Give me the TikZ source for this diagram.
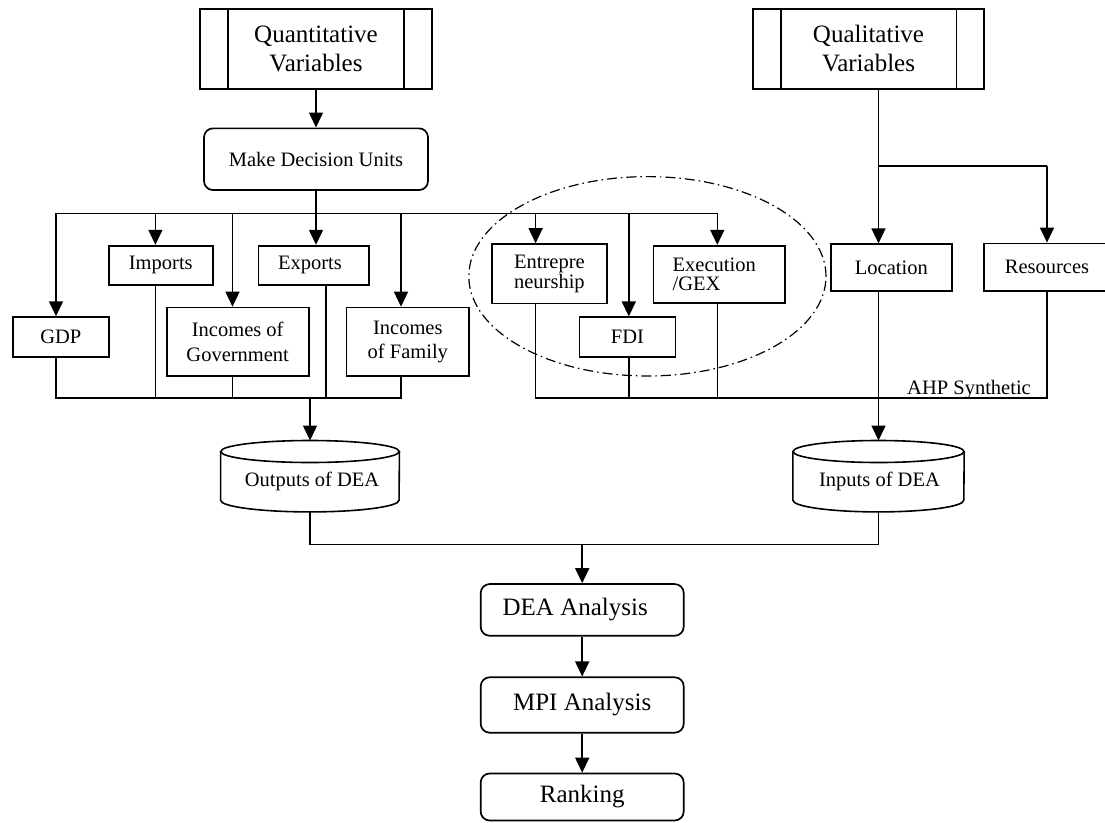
\documentclass[tikz,border=0pt]{standalone}
\usepackage{fontspec}
\setmainfont{Liberation Serif}
\usetikzlibrary{arrows.meta,calc}
\tikzset{
  box/.style={draw, line width=1.7pt, inner sep=0pt, align=center, font=\fontsize{20.5}{24.5}\selectfont},
  bigbox/.style={box, font=\fontsize{25}{29}\selectfont},
  rbox/.style={box, rounded corners=9pt},
  rbigbox/.style={bigbox, rounded corners=9pt},
  vbox/.style={bigbox, path picture={
      \draw[line width=1.5pt] ([xshift=28pt]path picture bounding box.north west) -- ([xshift=28pt]path picture bounding box.south west)
        ([xshift=-28pt]path picture bounding box.north east) -- ([xshift=-28pt]path picture bounding box.south east);}},
  cylarea/.style={inner sep=0pt},
  cyltext/.style={inner sep=0pt, align=center, font=\fontsize{20.5}{24.5}\selectfont},
  ln/.style={line width=1.5pt},
  arr/.style={ln, -{Triangle[width=14pt,length=15pt]}},
  ellip/.style={line width=1.2pt, dash pattern=on 10pt off 4pt on 1.5pt off 4pt}
}
\begin{document}
\begin{tikzpicture}[x=1pt,y=-1pt]
\useasboundingbox (0,0) rectangle (1105,822);

% top boxes
\node[vbox, minimum width=232pt, minimum height=80pt] (quant) at (316,49) {Quantitative\\Variables};
\node[vbox, minimum width=231.5pt, minimum height=80pt] (qual) at (868.5,49) {Qualitative\\Variables};
\node[rbox, minimum width=224pt, minimum height=61.7pt] (mdu) at (316,159.2) {Make Decision Units};

% second row
\node[box, minimum width=96.3pt, minimum height=39.7pt] (gdp) at (60.8,337) {GDP};
\node[box, minimum width=104.2pt, minimum height=39.3pt] (imp) at (160.8,265.3) {Imports};
\node[box, minimum width=142pt, minimum height=68.5pt] (igov) at (237.7,341.8) {Incomes of\\Government};
\node[box, minimum width=110.8pt, minimum height=39.3pt] (exp) at (313.9,265.3) {Exports\hspace*{8pt}};
\node[box, minimum width=122.5pt, minimum height=68.5pt] (ifam) at (407.8,341.8) {Incomes\\of Family};
\node[box, minimum width=115.2pt, minimum height=59.3pt, align=left, font=\fontsize{20.5}{18.5}\selectfont] (ent) at (549.4,273.7) {Entrepre\\neurship};
\node[box, minimum width=96pt, minimum height=39.4pt] (fdi) at (627.5,337) {FDI};
\node[box, minimum width=131.6pt, minimum height=57.6pt, align=left, font=\fontsize{20.5}{19}\selectfont] (exe) at (719.2,274.5) {Execution\hspace*{10pt}\\/GEX};
\node[box, minimum width=120.7pt, minimum height=46.5pt] (loc) at (891.3,267.5) {Location};
\node[box, minimum width=126pt, minimum height=47.5pt] (res) at (1047,267.2) {Resources};

% ellipse
\draw[ellip] (647.4,276.3) ellipse [x radius=178.6pt, y radius=99.7pt];

% bus coordinates
\coordinate (b1) at (56,213.3);
\coordinate (b2) at (155.4,213.3);
\coordinate (b3) at (232.5,213.3);
\coordinate (b4) at (316,213.3);
\coordinate (b5) at (401,213.3);
\coordinate (b6) at (535.6,213.3);
\coordinate (b7) at (628.8,213.3);
\coordinate (b8) at (717.3,213.3);
\draw[ln] (b1) -- (b8);

\draw[arr] (quant.south) -- (mdu.north);
\draw[arr] (mdu.south) -- (exp.north -| mdu.south);
\draw[arr] (b1) -- (b1 |- gdp.north);
\draw[arr] (b2) -- (b2 |- imp.north);
\draw[arr] (b3) -- (b3 |- igov.north);
\draw[arr] (b5) -- (b5 |- ifam.north);
\draw[arr] (b6) -- (b6 |- ent.north);
\draw[arr] (b7) -- (b7 |- fdi.north);
\draw[arr] (b8) -- (b8 |- exe.north);

% qualitative branch
\coordinate (qs) at (878.5,166);
\coordinate (qr) at (1047,166);
\draw[ln] (qual.south -| qs) -- (qs) -- (qr);
\draw[arr] (qs) -- (qs |- loc.north);
\draw[arr] (qr) -- (qr |- res.north);

% collectors
\coordinate (c1) at (56,398);
\coordinate (c2) at (155.4,398);
\coordinate (c3) at (232.5,398);
\coordinate (c4) at (326.2,398);
\coordinate (c5) at (401,398);
\coordinate (co) at (310,398);
\draw[ln] (c1 |- gdp.south) -- (c1) -- (c5) -- (c5 |- ifam.south);
\draw[ln] (c2 |- imp.south) -- (c2);
\draw[ln] (c3 |- igov.south) -- (c3);
\draw[ln] (c4 |- exp.south) -- (c4);

\coordinate (d1) at (535.6,398);
\coordinate (d2) at (628.8,398);
\coordinate (d3) at (717.3,398);
\coordinate (d4) at (1047,398);
\draw[ln] (d1 |- ent.south) -- (d1) -- (d4) -- (d4 |- res.south);
\draw[ln] (d2 |- fdi.south) -- (d2);
\draw[ln] (d3 |- exe.south) -- (d3);
\node[inner sep=0pt, anchor=base, font=\fontsize{20.5}{24.5}\selectfont] (ahp) at (969,394) {AHP Synthetic};

% cylinders
\node[cylarea, minimum width=178.5pt, minimum height=71pt] (outp) at (310,476.2) {};
\node[cylarea, minimum width=171pt, minimum height=71pt] (inp) at (878.5,476.2) {};
\node[cyltext] (outpt) at (312,481) {Outputs of DEA};
\node[cyltext] (inpt) at (879.5,481) {Inputs of DEA};
\draw[line width=1.6pt] ([yshift=-11pt]outp.north) ellipse [x radius=89.25pt, y radius=11pt];
\draw[line width=1.6pt] ([yshift=-11pt]outp.north west) -- ([yshift=11.7pt]outp.south west)
   arc[start angle=180, end angle=360, x radius=89.25pt, y radius=11.7pt] -- ([yshift=-11pt]outp.north east);
\draw[line width=1.6pt] ([yshift=-11pt]inp.north) ellipse [x radius=85.5pt, y radius=11pt];
\draw[line width=1.6pt] ([yshift=-11pt]inp.north west) -- ([yshift=11.7pt]inp.south west)
   arc[start angle=180, end angle=360, x radius=85.5pt, y radius=11.7pt] -- ([yshift=-11pt]inp.north east);

\draw[arr] (co) -- (outp.north);
\draw[arr] (loc.south -| qs) -- (inp.north);

% bottom chain
\node[rbigbox, minimum width=203pt, minimum height=51.7pt] (dea) at (582.2,609.9) {DEA Analysis\hspace*{14pt}};
\node[rbigbox, minimum width=203pt, minimum height=55.4pt] (mpi) at (582.2,705) {MPI Analysis};
\node[rbigbox, minimum width=203pt, minimum height=47pt] (rank) at (582.2,797) {Ranking};

\coordinate (j) at (582.2,544.3);
\draw[ln] (outp.south) -- (outp.south |- j) -- (inp.south |- j) -- (inp.south);
\draw[arr] (j) -- (dea.north);
\draw[arr] (dea.south) -- (mpi.north);
\draw[arr] (mpi.south) -- (rank.north);
\end{tikzpicture}
\end{document}
